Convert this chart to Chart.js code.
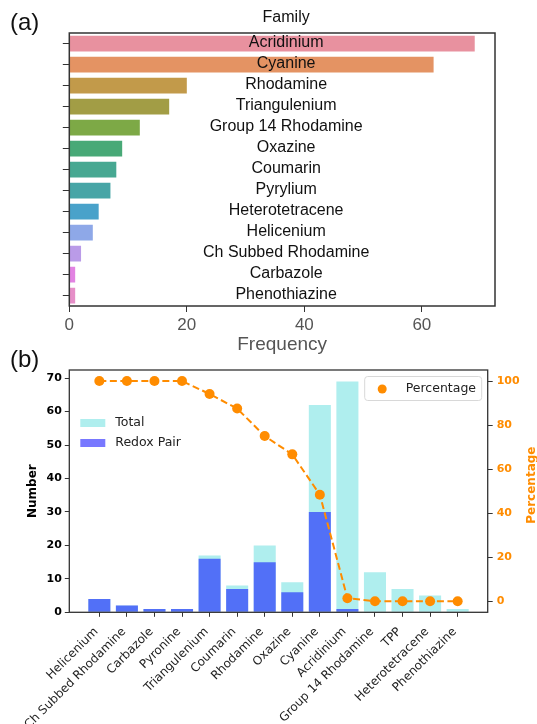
<!DOCTYPE html>
<html>
<head>
<meta charset="utf-8">
<title>Dye families</title>
<script src="https://cdn.jsdelivr.net/npm/chart.js@4.4.1/dist/chart.umd.min.js"></script>
<style>
  body { margin: 0; background: #fff; }
  #wrap { position: relative; width: 537px; height: 724px; }
  canvas { position: absolute; left: 0; }
  #familychart { top: 0; }
  #redoxchart { top: 344px; }
</style>
</head>
<body>
<div id="wrap">
  <canvas id="familychart" width="537" height="360"></canvas>
  <canvas id="redoxchart" width="537" height="380"></canvas>
</div>
<script>
// (a) family frequencies
var families = ['Acridinium', 'Cyanine', 'Rhodamine', 'Triangulenium', 'Group 14 Rhodamine', 'Oxazine',
    'Coumarin', 'Pyrylium', 'Heterotetracene', 'Helicenium', 'Ch Subbed Rhodamine', 'Carbazole', 'Phenothiazine'];
var familyCounts = [69, 62, 20, 17, 12, 9, 8, 7, 5, 4, 2, 1, 1];
var familyColors = ['#e8919f', '#e49363', '#c29a4a', '#a29d45', '#7da946', '#48a977', '#47a892',
    '#47a5a6', '#49a2ca', '#8ea8e8', '#ba9be8', '#e283e2', '#e68fc8'];

// (b) totals vs redox pairs
var dyes = ['Helicenium', 'Ch Subbed Rhodamine', 'Carbazole', 'Pyronine', 'Triangulenium', 'Coumarin',
    'Rhodamine', 'Oxazine', 'Cyanine', 'Acridinium', 'Group 14 Rhodamine', 'TPP', 'Heterotetracene', 'Phenothiazine'];
var totalCounts = [4, 2, 1, 1, 17, 8, 20, 9, 62, 69, 12, 7, 5, 1];
var redoxCounts = [4, 2, 1, 1, 16, 7, 15, 6, 30, 1, 0, 0, 0, 0];
var percentages = [100, 100, 100, 100, 94.1, 87.5, 75, 66.7, 48.4, 1.4, 0, 0, 0, 0];

var totalColor = '#afeeee';
var redoxColor = 'rgba(0, 0, 255, 0.53)';
var orange = '#ff8c00';

Chart.defaults.font.family = '"DejaVu Sans"';
Chart.defaults.animation = false;

const chartAreaBorder = {
    id: 'chartAreaBorder',
    afterDatasetsDraw(chart, args, options) {
        const {
            ctx,
            chartArea: {
                left,
                top,
                width,
                height
            }
        } = chart;
        ctx.save();
        ctx.strokeStyle = options.borderColor;
        ctx.lineWidth = options.borderWidth;
        ctx.strokeRect(left, top, width, height);
        ctx.restore();
    }
};

// family names written across the plot, plus title and panel tag
const familyLabels = {
    id: 'familyLabels',
    afterDatasetsDraw(chart) {
        const { ctx, chartArea, scales: { y } } = chart;
        var cx = (chartArea.left + chartArea.right) / 2 + 4;
        ctx.save();
        ctx.font = '16px "Liberation Sans"';
        ctx.fillStyle = '#111';
        ctx.textAlign = 'center';
        ctx.textBaseline = 'middle';
        families.forEach(function (name, i) {
            ctx.fillText(name, cx, y.getPixelForValue(i) - 1);
        });
        ctx.fillText('Family', cx, 18);
        ctx.font = '24px "Liberation Sans"';
        ctx.textAlign = 'left';
        ctx.fillText('(a)', 10, 23);
        ctx.restore();
    }
};

var ctx = document.getElementById('familychart');
var familyChart = new Chart(ctx, {
    type: 'bar',
    data: {
        labels: families,
        datasets: [{
            label: 'Family',
            data: familyCounts,
            backgroundColor: familyColors,
            barPercentage: 0.75,
            categoryPercentage: 1
        }]
    },
    options: {
        indexAxis: 'y',
        responsive: false,
        devicePixelRatio: 1,
        layout: {
            autoPadding: false,
            padding: { left: 0, right: 42, top: 33, bottom: 0 }
        },
        scales: {
            x: {
                min: 0,
                max: 72.45,
                afterFit: function (axis) { axis.height = 54; },
                grid: { drawOnChartArea: false, color: '#333', tickLength: 6 },
                border: { display: false },
                ticks: {
                    stepSize: 20,
                    includeBounds: false,
                    padding: 3,
                    color: '#555',
                    font: { family: '"Liberation Sans"', size: 17 }
                },
                title: {
                    display: true,
                    text: 'Frequency',
                    color: '#555',
                    font: { family: '"Liberation Sans"', size: 19 },
                    padding: { top: 4, bottom: 4 }
                }
            },
            y: {
                afterFit: function (axis) { axis.width = 69.3; },
                grid: { drawOnChartArea: false, offset: false, color: '#333', tickLength: 6.5 },
                border: { display: false },
                ticks: { display: false }
            }
        },
        plugins: {
            legend: { display: false },
            tooltip: { enabled: false },
            chartAreaBorder: { borderColor: '#333', borderWidth: 1.5 }
        }
    },
    plugins: [chartAreaBorder, familyLabels]
});

// in-plot legends, right axis title (reads upward) and panel tag
const redoxExtras = {
    id: 'redoxExtras',
    afterDatasetsDraw(chart) {
        const { ctx, chartArea: { left, right, top, bottom } } = chart;
        var sets = chart.data.datasets;
        ctx.save();
        ctx.font = '12.5px "DejaVu Sans"';
        ctx.textBaseline = 'middle';
        ctx.textAlign = 'left';

        ctx.fillStyle = totalColor;
        ctx.fillRect(left + 11, top + 49, 25, 8);
        ctx.fillStyle = redoxColor;
        ctx.fillRect(left + 11, top + 69, 25, 8);
        ctx.fillStyle = '#222';
        ctx.fillText(sets[2].label, left + 46, top + 53);
        ctx.fillText(sets[1].label, left + 46, top + 73);

        var bx = right - 123, by = top + 6.5, bw = 117, bh = 24;
        ctx.beginPath();
        ctx.roundRect(bx, by, bw, bh, 3);
        ctx.fillStyle = 'rgba(255,255,255,0.85)';
        ctx.fill();
        ctx.strokeStyle = '#d8d8d8';
        ctx.lineWidth = 1;
        ctx.stroke();
        ctx.beginPath();
        ctx.arc(bx + 17.5, by + 12.5, 4.5, 0, Math.PI * 2);
        ctx.fillStyle = orange;
        ctx.fill();
        ctx.fillStyle = '#222';
        ctx.fillText(sets[0].label, bx + 41, by + 12.5);

        ctx.save();
        ctx.translate(chart.width - 5, (top + bottom) / 2 - 6);
        ctx.rotate(-Math.PI / 2);
        ctx.textAlign = 'center';
        ctx.font = 'bold 12px "DejaVu Sans"';
        ctx.fillStyle = orange;
        ctx.fillText('Percentage', 0, 0);
        ctx.restore();

        ctx.font = '24px "Liberation Sans"';
        ctx.fillStyle = '#111';
        ctx.fillText('(b)', 10, 16);
        ctx.restore();
    }
};

function points(values) {
    return values.map(function (v, i) { return { x: i, y: v }; });
}

var ctx2 = document.getElementById('redoxchart');
var redoxChart = new Chart(ctx2, {
    type: 'bar',
    data: {
        datasets: [{
            type: 'line',
            label: 'Percentage',
            data: points(percentages),
            yAxisID: 'y1',
            borderColor: orange,
            borderWidth: 2,
            borderDash: [7, 3.5],
            tension: 0,
            pointRadius: 5,
            pointBackgroundColor: orange,
            pointBorderWidth: 0,
            order: 0
        },
        {
            label: 'Redox Pair',
            data: points(redoxCounts),
            yAxisID: 'y',
            backgroundColor: redoxColor,
            barPercentage: 0.8,
            categoryPercentage: 1,
            grouped: false,
            order: 1
        },
        {
            label: 'Total',
            data: points(totalCounts),
            yAxisID: 'y',
            backgroundColor: totalColor,
            barPercentage: 0.8,
            categoryPercentage: 1,
            grouped: false,
            order: 2
        }]
    },
    options: {
        responsive: false,
        devicePixelRatio: 1,
        layout: {
            autoPadding: false,
            padding: { left: 22, right: 0, top: 26, bottom: 0 }
        },
        scales: {
            x: {
                type: 'linear',
                min: -1.09,
                max: 14.09,
                offset: false,
                afterBuildTicks: function (axis) {
                    axis.ticks = dyes.map(function (d, i) { return { value: i }; });
                },
                afterFit: function (axis) { axis.height = 111.7; },
                grid: { drawOnChartArea: false, offset: false, color: '#333', tickLength: 4.5 },
                border: { display: false },
                ticks: {
                    autoSkip: false,
                    minRotation: 45,
                    maxRotation: 45,
                    padding: 8,
                    labelOffset: -3,
                    color: '#222',
                    font: { size: 12 },
                    callback: function (value) { return dyes[value]; }
                }
            },
            y: {
                type: 'linear',
                position: 'left',
                min: 0,
                max: 72.45,
                afterFit: function (axis) { axis.width = 47.3; },
                grid: { drawOnChartArea: false, color: '#333', tickLength: 4.5 },
                border: { display: false },
                ticks: {
                    stepSize: 10,
                    includeBounds: false,
                    padding: 3,
                    color: '#000',
                    font: { size: 11, weight: 'bold' }
                },
                title: {
                    display: true,
                    text: 'Number',
                    color: '#000',
                    font: { size: 12, weight: 'bold' }
                }
            },
            y1: {
                type: 'linear',
                position: 'right',
                min: -5,
                max: 105,
                afterFit: function (axis) { axis.width = 49.3; },
                grid: { drawOnChartArea: false, color: '#333', tickLength: 5 },
                border: { display: false },
                ticks: {
                    stepSize: 20,
                    includeBounds: false,
                    padding: 4,
                    color: orange,
                    font: { size: 11, weight: 'bold' }
                }
            }
        },
        plugins: {
            legend: { display: false },
            tooltip: { enabled: false },
            chartAreaBorder: { borderColor: '#333', borderWidth: 1.3 }
        }
    },
    plugins: [chartAreaBorder, redoxExtras]
});
</script>
</body>
</html>
